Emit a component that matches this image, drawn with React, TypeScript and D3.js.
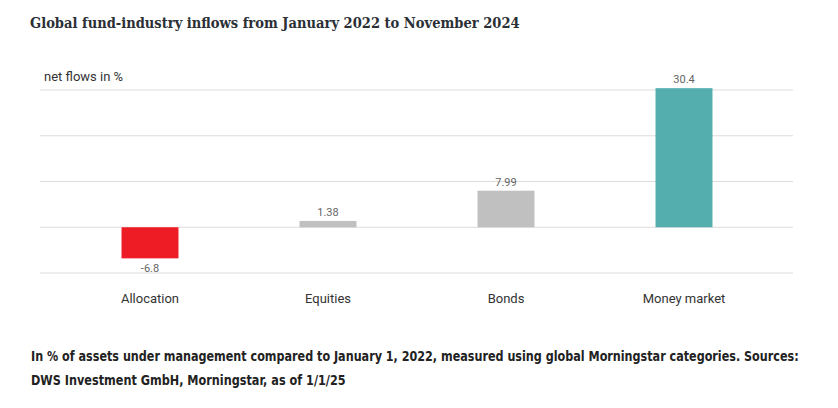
import React, { useLayoutEffect, useRef, useState } from 'react'
import * as d3 from 'd3'

const categories = ['Allocation', 'Equities', 'Bonds', 'Money market']
const values = [-6.8, 1.38, 7.99, 30.4]
const valueLabels = ['-6.8', '1.38', '7.99', '30.4']
const gridTicks = [-10, 0, 10, 20, 30]
const barColors = ['#ee1c25', '#c0c0c0', '#c0c0c0', '#54aeae']
const footLines = [
  'In % of assets under management compared to January 1, 2022, measured using global Morningstar categories. Sources:',
  'DWS Investment GmbH, Morningstar, as of 1/1/25',
]

const W = 838
const H = 408
const footFont = "'DejaVu Sans Condensed', sans-serif"

// squeeze a text horizontally to a target width, keeping its height
const FitText = ({ x, y, width, children, ...rest }: any) => {
  const ref = useRef<SVGTextElement>(null)
  const [k, setK] = useState(1)
  useLayoutEffect(() => {
    if (ref.current) {
      const len = ref.current.getComputedTextLength()
      if (len > 0) setK(width / len)
    }
  }, [width])
  return (
    <g transform={`translate(${x},${y}) scale(${k},1)`}>
      <text ref={ref} x={0} y={0} {...rest}>{children}</text>
    </g>
  )
}

const App = () => {
  const x = d3.scaleBand<string>().domain(categories).range([61, 773]).paddingInner(0.68).paddingOuter(0.34)
  const y = d3.scaleLinear().domain([-10, 30]).range([273, 90])

  return (
    <svg width={W} height={H} style={{ position: 'absolute', left: 0, top: 0 }}>
      <FitText x={30} y={28} width={490} fontFamily="'DejaVu Serif Condensed', 'DejaVu Serif'" fontWeight="bold" fontSize={15} fill="#2b2f36">
        Global fund-industry inflows from January 2022 to November 2024
      </FitText>

      {gridTicks.map(t => (
        <line key={t} x1={40} x2={793} y1={y(t)} y2={y(t)} stroke="#dcdcdc" strokeWidth={1} />
      ))}

      <text x={44} y={81} fontFamily="Roboto" fontSize={13} fill="#333">net flows in %</text>

      {categories.map((c, i) => {
        const v = values[i]
        const top = y(Math.max(0, v))
        const bottom = y(Math.min(0, v))
        const cx = (x(c) || 0) + x.bandwidth() / 2
        return (
          <g key={c}>
            <rect x={x(c)} y={top} width={x.bandwidth()} height={bottom - top} fill={barColors[i]} />
            <text x={cx} y={v >= 0 ? top - 5 : bottom + 14} textAnchor="middle" fontFamily="Roboto" fontSize={11} fill="#666">
              {valueLabels[i]}
            </text>
            <text x={cx} y={303} textAnchor="middle" fontFamily="Roboto" fontSize={13} fill="#333">{c}</text>
          </g>
        )
      })}

      <FitText x={31} y={361} width={768} fontFamily={footFont} fontWeight="bold" fontSize={14} fill="#222">
        {footLines[0]}
      </FitText>
      <FitText x={31} y={385} width={315} fontFamily={footFont} fontWeight="bold" fontSize={14} fill="#222">
        {footLines[1]}
      </FitText>
    </svg>
  )
}

export default App
